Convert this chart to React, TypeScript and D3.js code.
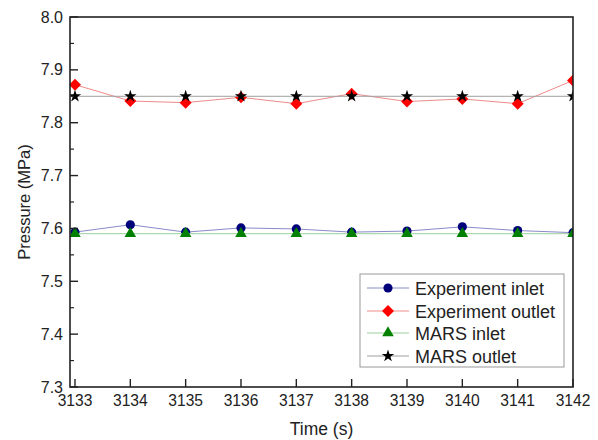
import React from "react";
import * as d3 from "d3";

const times = [3133, 3134, 3135, 3136, 3137, 3138, 3139, 3140, 3141, 3142];
const expInlet = [7.593, 7.607, 7.593, 7.601, 7.599, 7.593, 7.595, 7.603, 7.596, 7.592];
const expOutlet = [7.872, 7.841, 7.838, 7.848, 7.836, 7.855, 7.840, 7.845, 7.836, 7.880];
const marsInlet = [7.59, 7.59, 7.59, 7.59, 7.59, 7.59, 7.59, 7.59, 7.59, 7.59];
const marsOutlet = [7.85, 7.85, 7.85, 7.85, 7.85, 7.85, 7.85, 7.85, 7.85, 7.85];
const yTicks = [7.3, 7.4, 7.5, 7.6, 7.7, 7.8, 7.9, 8.0];
const seriesNames = ["Experiment inlet", "Experiment outlet", "MARS inlet", "MARS outlet"];

const W = 598, H = 440;
const L = 70, R = 573, T = 17, B = 387;

const series = [
  { name: seriesNames[0], values: expInlet, line: "#8a8acb", fill: "#00007a", marker: "circle" },
  { name: seriesNames[1], values: expOutlet, line: "#f08a8a", fill: "#ff0000", marker: "diamond" },
  { name: seriesNames[2], values: marsInlet, line: "#9ccf9c", fill: "#008000", marker: "triangle" },
  { name: seriesNames[3], values: marsOutlet, line: "#a0a0a0", fill: "#000000", marker: "star" },
];

function markerPath(kind: string): string {
  if (kind === "diamond") {
    const p = d3.path();
    const r = 6;
    p.moveTo(0, -r); p.lineTo(r, 0); p.lineTo(0, r); p.lineTo(-r, 0); p.closePath();
    return p.toString();
  }
  const map: Record<string, any> = {
    circle: [d3.symbolCircle, 66],
    triangle: [d3.symbolTriangle, 58],
    star: [d3.symbolStar, 48],
  };
  const [t, s] = map[kind];
  return d3.symbol(t, s)() as string;
}

export default function App() {
  const x = d3.scaleLinear().domain([3132.91, 3142]).range([L, R]);
  const y = d3.scaleLinear().domain([7.3, 8.0]).range([B, T]);
  const line = d3.line<[number, number]>().x((d) => x(d[0])).y((d) => y(d[1]));
  const minor = d3.range(7.35, 8.0, 0.1);
  const font = "Arial, 'Liberation Sans', sans-serif";

  const legX = 360, legY = 274, legW = 204, legH = 93;
  const rowY = [288, 311, 333, 356];

  return (
    <svg width={W} height={H} style={{ position: "absolute", left: 0, top: 0 }} fontFamily={font}>
      <rect width={W} height={H} fill="#fff" />
      <defs>
        <clipPath id="clip">
          <rect x={L} y={T} width={R - L} height={B - T} />
        </clipPath>
      </defs>
      {series.map((s) => (
        <g key={s.name} clipPath="url(#clip)">
          <path d={line(times.map((t, i) => [t, s.values[i]]))!} fill="none" stroke={s.line} strokeWidth={1} />
          {times.map((t, i) => (
            <path key={i} d={markerPath(s.marker)} transform={`translate(${x(t)},${y(s.values[i])})`} fill={s.fill} />
          ))}
        </g>
      ))}
      {/* frame */}
      <rect x={L} y={T} width={R - L} height={B - T} fill="none" stroke="#222" strokeWidth={1.6} />
      {/* x ticks */}
      {times.map((t) => (
        <g key={t}>
          <line x1={x(t)} x2={x(t)} y1={B} y2={B - 8} stroke="#222" strokeWidth={1.4} />
          <text x={x(t)} y={B + 19} textAnchor="middle" fontSize={15.6} fill="#222">{t}</text>
        </g>
      ))}
      {yTicks.map((v) => (
        <g key={v}>
          <line x1={L} x2={L + 8} y1={y(v)} y2={y(v)} stroke="#222" strokeWidth={1.4} />
          <text x={L - 7} y={y(v) + 5.5} textAnchor="end" fontSize={16} fill="#222">{v.toFixed(1)}</text>
        </g>
      ))}
      {minor.map((v) => (
        <line key={v} x1={L} x2={L + 4} y1={y(v)} y2={y(v)} stroke="#222" strokeWidth={1.2} />
      ))}
      <text x={321.5} y={435} textAnchor="middle" fontSize={17.5} fill="#222">Time (s)</text>
      <text transform={`translate(30,${(T + B) / 2}) rotate(-90)`} textAnchor="middle" fontSize={16.5} fill="#222">Pressure (MPa)</text>
      {/* legend */}
      <rect x={legX} y={legY} width={legW} height={legH} fill="#fff" stroke="#999" strokeWidth={1} />
      {series.map((s, i) => (
        <g key={s.name}>
          <line x1={367} x2={409} y1={rowY[i]} y2={rowY[i]} stroke={s.line} strokeWidth={1} />
          <path d={markerPath(s.marker)} transform={`translate(388,${rowY[i]})`} fill={s.fill} />
          <text x={415} y={rowY[i] + 6.5} fontSize={18} fill="#222">{s.name}</text>
        </g>
      ))}
    </svg>
  );
}
